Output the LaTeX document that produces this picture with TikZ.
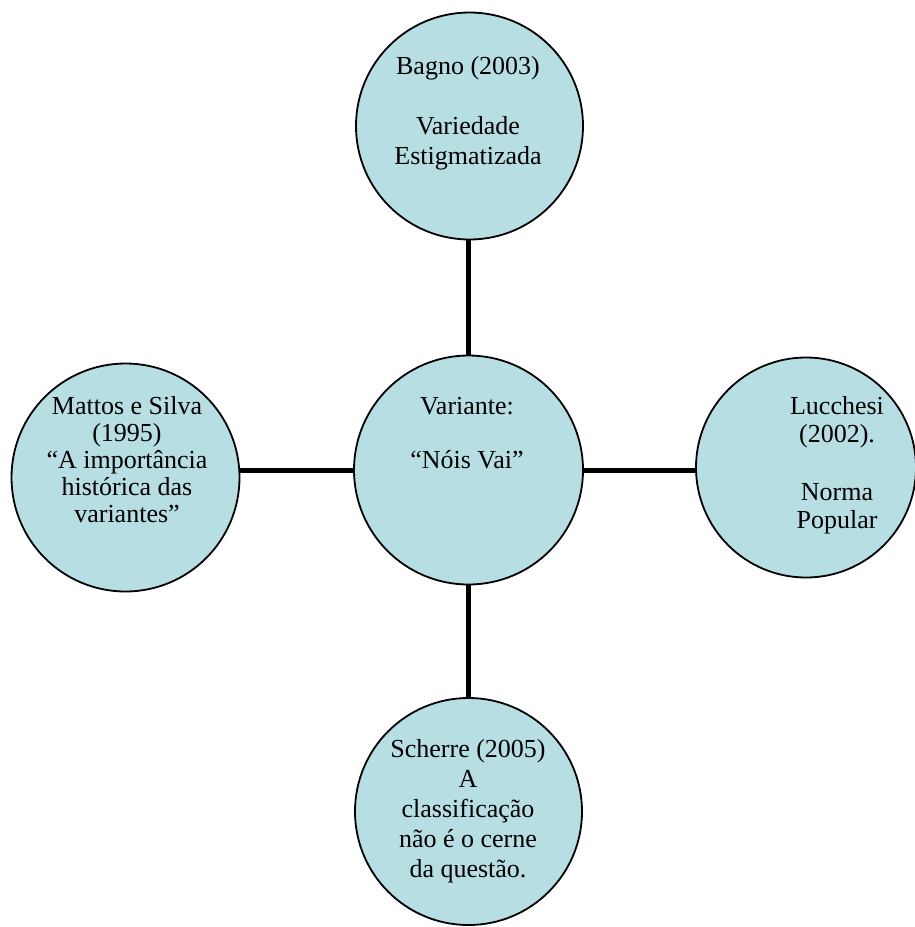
\documentclass[tikz,border=0pt]{standalone}
\usepackage{fontspec}
\setmainfont{Liberation Serif}
\usetikzlibrary{backgrounds}
\definecolor{bubblefill}{RGB}{183,222,227}
\begin{document}
\begin{tikzpicture}[x=1pt,y=-1pt,
  bubble/.style={circle,draw=black,line width=1.8pt,fill=bubblefill,inner sep=0pt},
  link/.style={line width=5pt,draw=black},
  txt/.style={anchor=base,align=center,inner sep=0pt,font=\fontsize{26}{30}\selectfont}]
\useasboundingbox (0,0) rectangle (914,927);
% circles
\node[bubble,minimum size=229pt] (c) at (468.5,470) {};
\node[bubble,minimum size=227pt] (t) at (469.5,126) {};
\node[bubble,minimum size=228pt] (l) at (125.5,477.5) {};
\node[bubble,minimum size=220pt] (r) at (806,467.5) {};
\node[bubble,minimum size=227pt] (b) at (468.5,811.5) {};
% texts (base anchor = baseline of the last line)
\node[txt] (tt) at (468,164) {Bagno (2003)\\[30pt]Variedade\\Estigmatizada};
\node[txt] (ct) at (467,468) {Variante:\\[24pt]“Nóis Vai”};
\node[txt,font=\fontsize{26}{27}\selectfont] (lt) at (127,522) {Mattos e Silva\\(1995)\\“A importância\\histórica das\\variantes”};
\node[txt,font=\fontsize{26}{28}\selectfont] (rt) at (837,528) {Lucchesi\\(2002).\\[30pt]Norma\\Popular};
\node[txt] (bt) at (468,877) {Scherre (2005)\\A\\classificação\\não é o cerne\\da questão.};
% connectors
\begin{scope}[on background layer]
\draw[link] (c.north) -- (c.north |- t.south);
\draw[link] (c.south) -- (c.south |- b.north);
\draw[link] (c.west) -- (c.west -| l.east);
\draw[link] (c.east) -- (c.east -| r.west);
\end{scope}
\end{tikzpicture}
\end{document}
